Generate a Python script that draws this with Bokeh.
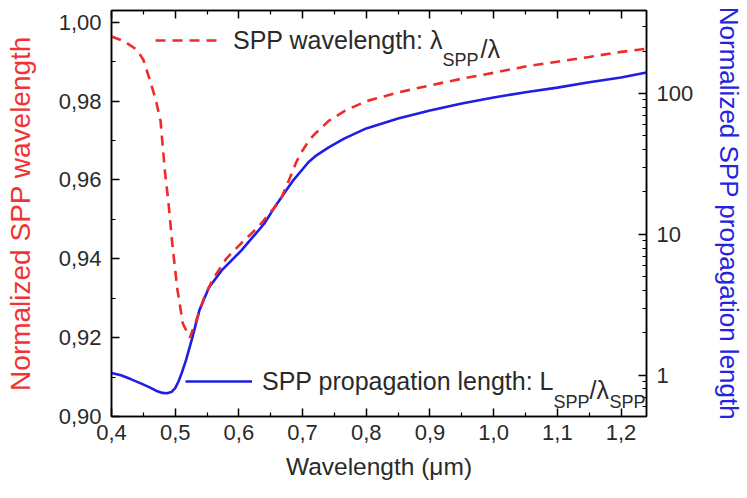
from bokeh.plotting import figure
from bokeh.models import (Range1d, LinearAxis, LogAxis, LogScale, FixedTicker,
                          CustomJSTickFormatter, Legend, LegendItem, Label)
from bokeh.embed import file_html
from bokeh.resources import INLINE

# ---- data ----
wl_x = [0.400, 0.420, 0.440, 0.450, 0.461, 0.470, 0.477, 0.484, 0.489, 0.495,
        0.503, 0.512, 0.523, 0.533, 0.545, 0.558, 0.580, 0.604, 0.630, 0.665,
        0.680, 0.690, 0.700, 0.710, 0.720, 0.741, 0.767, 0.800, 0.850, 0.900,
        0.950, 1.000, 1.050, 1.100, 1.150, 1.200, 1.240]
wl_ratio = [0.9964, 0.9952, 0.9930, 0.9905, 0.9850, 0.9800, 0.9750, 0.9620, 0.9550, 0.9446,
            0.9327, 0.9236, 0.9200, 0.9243, 0.9300, 0.9345, 0.9400, 0.9440, 0.9480, 0.9548,
            0.9605, 0.9645, 0.9675, 0.9700, 0.9718, 0.9750, 0.9776, 0.9800, 0.9822, 0.9840,
            0.9857, 0.9872, 0.9888, 0.9900, 0.9912, 0.9925, 0.9933]

lp_x = [0.400, 0.415, 0.430, 0.446, 0.460, 0.472, 0.480, 0.487, 0.494, 0.500,
        0.505, 0.510, 0.517, 0.527, 0.538, 0.553, 0.573, 0.604, 0.640, 0.655,
        0.671, 0.685, 0.700, 0.710, 0.720, 0.741, 0.766, 0.800, 0.850, 0.900,
        0.950, 1.000, 1.050, 1.100, 1.150, 1.200, 1.240]
lp_ratio = [1.04, 1.00, 0.94, 0.877, 0.82, 0.77, 0.75, 0.745, 0.76, 0.81,
            0.90, 1.03, 1.28, 1.86, 2.89, 4.2, 5.55, 7.7, 11.95, 15.3,
            19.5, 24.1, 29.0, 32.8, 35.9, 41.4, 48.0, 56.5, 66.5, 75.7,
            85.0, 93.7, 102.0, 110.0, 120.0, 130.0, 141.0]

x_major = [0.4, 0.5, 0.6, 0.7, 0.8, 0.9, 1.0, 1.1, 1.2]
x_minor = [0.45, 0.55, 0.65, 0.75, 0.85, 0.95, 1.05, 1.15]
yl_major = [0.90, 0.92, 0.94, 0.96, 0.98, 1.00]
yl_minor = [0.91, 0.93, 0.95, 0.97, 0.99]
yr_major = [1, 10, 100]
yr_minor = [0.6, 0.7, 0.8, 0.9, 2, 3, 4, 5, 6, 7, 8, 9,
            20, 30, 40, 50, 60, 70, 80, 90, 200, 300]

RED = "#ee2b2b"
BLUE = "#1e1ee6"
FONT = "Liberation Sans"
TXT = "#2a2a2a"

p = figure(width=747, height=498, x_range=Range1d(0.4, 1.24), y_range=Range1d(0.9, 1.003),
           output_backend="svg", toolbar_location=None,
           min_border_left=111, min_border_right=87, min_border_top=10, min_border_bottom=82)
p.xgrid.visible = False
p.ygrid.visible = False
p.outline_line_color = "black"
p.outline_line_width = 1.5
p.background_fill_color = "white"
p.border_fill_color = "white"

p.extra_y_ranges = {"L": Range1d(0.51, 388)}
p.extra_y_scales = {"L": LogScale()}


def style_axis(ax):
    ax.axis_line_color = "black"
    ax.axis_line_width = 1.5
    ax.major_tick_line_color = "black"
    ax.minor_tick_line_color = "black"
    ax.major_tick_line_width = 1.5
    ax.minor_tick_line_width = 1.2
    ax.major_tick_in = 8
    ax.major_tick_out = 0
    ax.minor_tick_in = 4
    ax.minor_tick_out = 0
    ax.major_label_text_font = FONT
    ax.major_label_text_font_size = "22px"
    ax.major_label_text_color = TXT
    ax.axis_label_text_font = FONT
    ax.axis_label_text_font_style = "normal"


# bottom axis
xa = p.xaxis[0]
style_axis(xa)
xa.ticker = FixedTicker(ticks=x_major, minor_ticks=x_minor)
xa.formatter = CustomJSTickFormatter(code="return tick.toFixed(1).replace('.', ',')")
xa.major_label_standoff = 8
xa.axis_label = "Wavelength (μm)"
xa.axis_label_text_font_size = "24.5px"
xa.axis_label_text_color = TXT
xa.axis_label_standoff = 10

# top mirror axis (ticks only)
ta = LinearAxis()
style_axis(ta)
ta.ticker = FixedTicker(ticks=x_major, minor_ticks=x_minor)
ta.formatter = CustomJSTickFormatter(code="return ''")
ta.major_label_standoff = 0
p.add_layout(ta, "above")

# left axis
ya = p.yaxis[0]
style_axis(ya)
ya.ticker = FixedTicker(ticks=yl_major, minor_ticks=yl_minor)
ya.formatter = CustomJSTickFormatter(code="return tick.toFixed(2).replace('.', ',')")
ya.major_label_standoff = 10
ya.axis_label = "Normalized SPP wavelength"
ya.axis_label_text_font_size = "28px"
ya.axis_label_text_color = "#f03434"
ya.axis_label_standoff = 20

# right log axis
ra = LogAxis(y_range_name="L")
style_axis(ra)
ra.ticker = FixedTicker(ticks=yr_major, minor_ticks=yr_minor)
ra.formatter = CustomJSTickFormatter(code="return String(Math.round(tick))")
ra.major_label_standoff = 10
ra.axis_label = "Normalized SPP propagation length"
ra.axis_label_text_font_size = "26px"
ra.axis_label_text_color = "#2424e0"
ra.axis_label_standoff = 18
p.add_layout(ra, "right")

blue = p.line(lp_x, lp_ratio, y_range_name="L", line_color=BLUE, line_width=2.6)
red = p.line(wl_x, wl_ratio, line_color=RED, line_width=2.6, line_dash="10 7")

LEG_SIZE = "25px"
SUB_SIZE = "18px"


def make_legend(label, rend, loc, gw, standoff):
    lg = Legend(items=[LegendItem(label=label, renderers=[rend])], location=loc,
                orientation="vertical", padding=0, margin=0, spacing=0,
                glyph_width=gw, glyph_height=30, label_height=30,
                label_standoff=standoff, border_line_color=None,
                background_fill_alpha=0, label_text_font=FONT,
                label_text_font_size=LEG_SIZE, label_text_color=TXT)
    p.add_layout(lg, "center")


make_legend("SPP wavelength: λ", red, (44, 361), 62, 16)
make_legend("SPP propagation length: L", blue, (74, 20), 67, 10)


def piece(text, dx, dy, size):
    p.add_layout(Label(x=0.4, y=0.9, x_offset=dx, y_offset=dy, text=text,
                       text_font=FONT, text_font_size=size, text_color=TXT,
                       text_baseline="alphabetic", text_align="left"))


# subscripts and the rest of the legend formulas
piece("SPP", 331, 357, SUB_SIZE)
piece("/λ", 369, 368, LEG_SIZE)
piece("SPP", 442, 15, SUB_SIZE)
piece("/λ", 478, 27, LEG_SIZE)
piece("SPP", 498, 15, SUB_SIZE)

open("out.html", "w").write(file_html(p, INLINE))
